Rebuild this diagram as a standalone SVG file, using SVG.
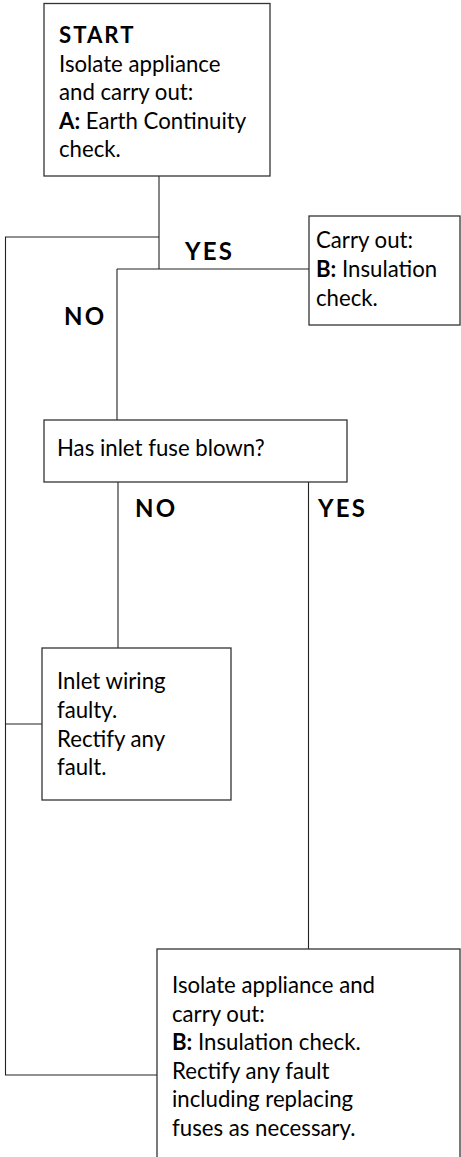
<svg xmlns="http://www.w3.org/2000/svg" width="461" height="1157" viewBox="0 0 461 1157">
<style>
.box{fill:#fff;stroke:#333;stroke-width:1.3}
.ln{fill:none;stroke:#222;stroke-width:1.1}
text{font-family:Lato,"Open Sans","Liberation Sans",sans-serif;font-size:22.2px;fill:#000}
.b{font-weight:bold}
.st{font-weight:bold;letter-spacing:2px}
.lbl{font-weight:bold;font-size:24px;letter-spacing:2.2px}
</style>
<rect width="461" height="1157" fill="#fff"/>
<g id="connectors">
<polyline class="ln" points="159,176 159,269"/>
<polyline class="ln" points="117,269 309,269"/>
<polyline class="ln" points="117,269 117,420"/>
<polyline class="ln" points="159,237 5.5,237 5.5,1075 157,1075"/>
<polyline class="ln" points="5.5,724 42,724"/>
<polyline class="ln" points="118,482 118,648"/>
<polyline class="ln" points="308.5,482 308.5,949"/>
<text class="lbl" x="185" y="260">YES</text>
<text class="lbl" x="64" y="325">NO</text>
<text class="lbl" x="135" y="517">NO</text>
<text class="lbl" x="318" y="517">YES</text>
</g>
<g id="start">
<rect class="box" x="44" y="3.5" width="226" height="172.5"/>
<text class="st" x="59" y="42.7">START</text>
<text x="59" y="71.7">Isolate appliance</text>
<text x="59" y="100.2">and carry out:</text>
<text x="59" y="128.7"><tspan class="b">A:</tspan> Earth Continuity</text>
<text x="59" y="157.2">check.</text>
</g>
<g id="insulation1">
<rect class="box" x="309" y="216" width="151" height="109"/>
<text x="316" y="248">Carry out:</text>
<text x="316" y="277"><tspan class="b">B:</tspan> Insulation</text>
<text x="316" y="306">check.</text>
</g>
<g id="fuse">
<rect class="box" x="44" y="420" width="303" height="62"/>
<text x="57" y="456">Has inlet fuse blown?</text>
</g>
<g id="wiring">
<rect class="box" x="42" y="648" width="189" height="152"/>
<text x="57" y="689">Inlet wiring</text>
<text x="57" y="718">faulty.</text>
<text x="57" y="746.7">Rectify any</text>
<text x="57" y="775">fault.</text>
</g>
<g id="insulation2">
<rect class="box" x="157" y="949" width="303" height="215"/>
<text x="172" y="992.7">Isolate appliance and</text>
<text x="172" y="1021.7">carry out:</text>
<text x="172" y="1050"><tspan class="b">B:</tspan> Insulation check.</text>
<text x="172" y="1078.5">Rectify any fault</text>
<text x="172" y="1107">including replacing</text>
<text x="172" y="1135.5">fuses as necessary.</text>
</g>
</svg>
